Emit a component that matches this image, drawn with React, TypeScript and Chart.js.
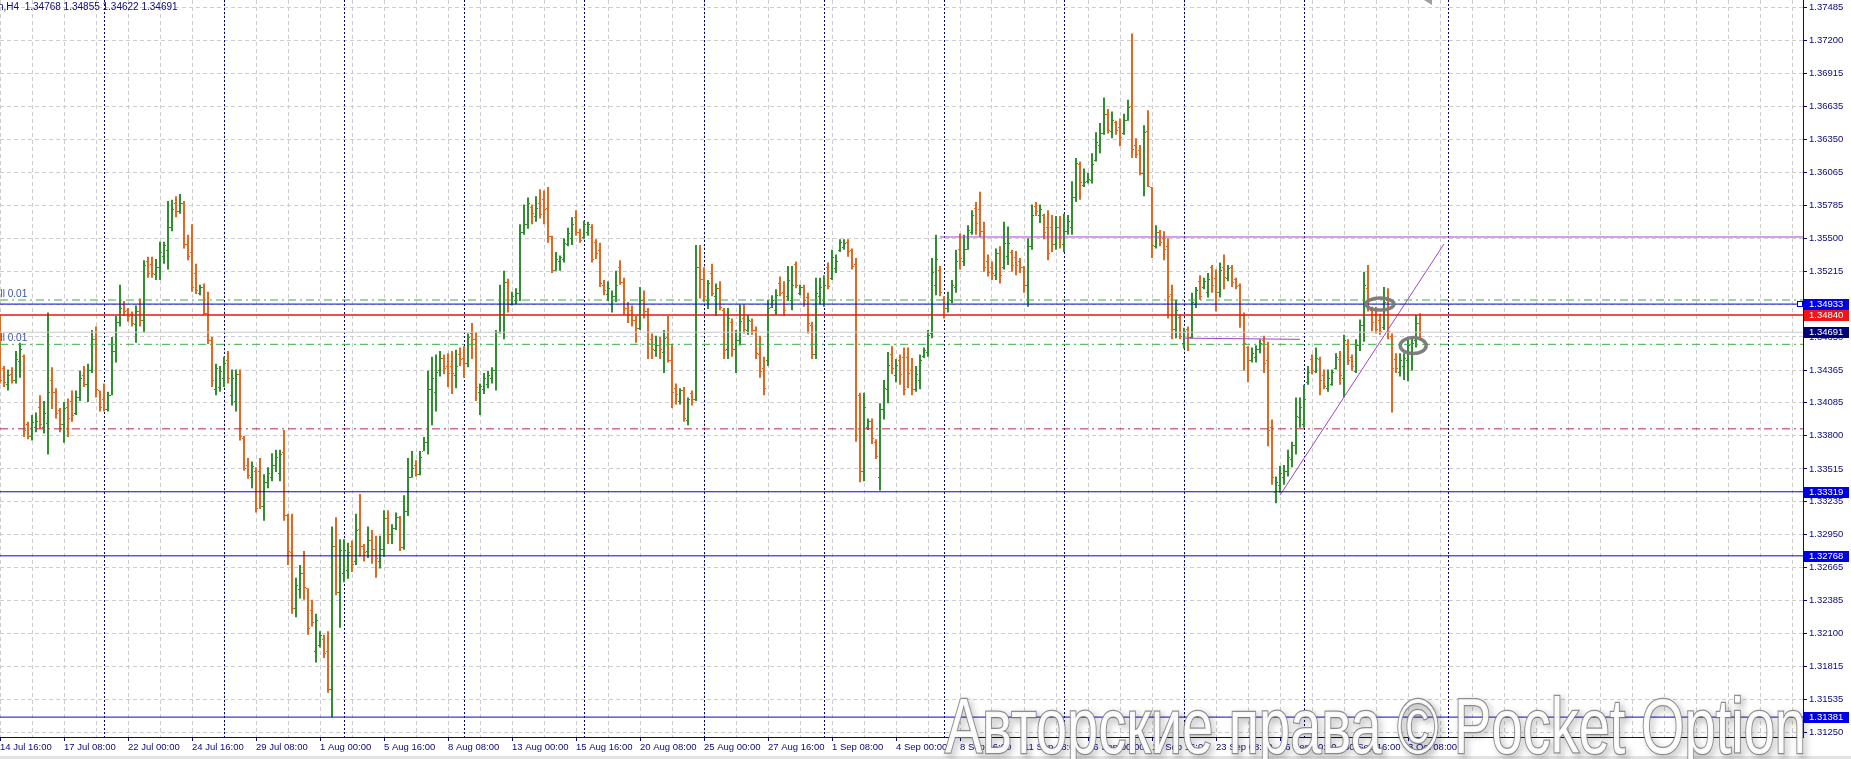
import React, { useEffect, useRef } from 'react';
import { Chart, registerables } from 'chart.js';

Chart.register(...registerables);

// ---------- DATA (H4 bars, 14 Jul 16:00 -> 3 Oct 20:00) ----------
const openPrices = [
  1.3484,1.3438,1.3425,1.3433,1.3428,1.3444,1.3449,1.3390,1.3380,1.3388,
  1.3405,1.3388,1.3391,1.3428,1.3418,1.3402,1.3390,1.3405,1.3410,1.3400,
  1.3413,1.3432,1.3425,1.3437,1.3463,1.3419,1.3412,1.3403,1.3415,1.3453,
  1.3478,1.3493,1.3488,1.3485,1.3476,1.3487,1.3480,1.3530,1.3528,1.3519,
  1.3525,1.3535,1.3540,1.3560,1.3580,1.3573,1.3580,1.3545,1.3538,1.3520,
  1.3503,1.3508,1.3486,1.3462,1.3420,1.3422,1.3430,1.3445,1.3415,1.3410,
  1.3433,1.3378,1.3355,1.3345,1.3350,1.3350,1.3320,1.3340,1.3345,1.3355,
  1.3348,1.3366,1.3312,1.3280,1.3232,1.3248,1.3262,1.3249,1.3230,1.3195,
  1.3200,1.3205,1.3195,1.3162,1.3285,1.3246,1.3262,1.3265,1.3285,1.3272,
  1.3300,1.3285,1.3281,1.3290,1.3283,1.3272,1.3283,1.3309,1.3296,1.3301,
  1.3310,1.3284,1.3315,1.3345,1.3355,1.3347,1.3367,1.3375,1.3420,1.3418,
  1.3437,1.3447,1.3440,1.3440,1.3432,1.3450,1.3447,1.3443,1.3468,1.3463,
  1.3418,1.3420,1.3425,1.3430,1.3437,1.3469,1.3485,1.3512,1.3493,1.3497,
  1.3503,1.3555,1.3562,1.3577,1.3569,1.3580,1.3584,1.3576,1.3552,1.3523,
  1.3530,1.3532,1.3545,1.3550,1.3568,1.3555,1.3551,1.3555,1.3560,1.3547,
  1.3540,1.3510,1.3502,1.3493,1.3500,1.3525,1.3512,1.3490,1.3488,1.3480,
  1.3473,1.3497,1.3487,1.3463,1.3454,1.3458,1.3452,1.3465,1.3445,1.3421,
  1.3410,1.3419,1.3394,1.3417,1.3412,1.3525,1.3515,1.3497,1.3520,1.3500,
  1.3507,1.3488,1.3455,1.3478,1.3455,1.3462,1.3481,1.3471,1.3479,1.3471,
  1.3450,1.3438,1.3445,1.3491,1.3488,1.3511,1.3504,1.3500,1.3497,1.3528,
  1.3503,1.3508,1.3499,1.3475,1.3450,1.3500,1.3497,1.3525,1.3516,1.3524,
  1.3540,1.3542,1.3547,1.3540,1.3528,1.3415,1.3350,1.3388,1.3393,1.3375,
  1.3345,1.3403,1.3420,1.3450,1.3432,1.3445,1.3448,1.3448,1.3437,1.3420,
  1.3428,1.3449,1.3452,1.3468,1.3510,1.3523,1.3498,1.3490,1.3497,1.3508,
  1.3541,1.3530,1.3541,1.3555,1.3576,1.3575,1.3556,1.3530,1.3525,1.3518,
  1.3537,1.3525,1.3535,1.3538,1.3534,1.3530,1.3525,1.3510,1.3543,1.3578,
  1.3570,1.3570,1.3560,1.3560,1.3545,1.3560,1.3545,1.3556,1.3560,1.3585,
  1.3614,1.3596,1.3599,1.3600,1.3617,1.3630,1.3640,1.3657,1.3642,1.3650,
  1.3646,1.3640,1.3652,1.3664,1.3630,1.3626,1.3606,1.3642,1.3594,1.3543,
  1.3555,1.3550,1.3543,1.3502,1.3472,1.3482,1.3460,1.3472,1.3465,1.3493,
  1.3513,1.3508,1.3504,1.3525,1.3516,1.3504,1.3525,1.3516,1.3525,1.3515,
  1.3510,1.3484,1.3456,1.3445,1.3448,1.3455,1.3462,1.3445,1.3388,1.3332,
  1.3338,1.3345,1.3350,1.3360,1.3372,1.3396,1.3390,1.3426,1.3446,1.3436,
  1.3446,1.3432,1.3421,1.3425,1.3438,1.3446,1.3430,1.3459,1.3448,1.3436,
  1.3458,1.3475,1.3507,1.3488,1.3485,1.3480,1.3474,1.3497,1.3466,1.3446,
  1.3435,1.3440,1.3445,1.3452,1.3462,1.34768
];
const highPrices = [
  1.3484,1.3440,1.3437,1.3439,1.3453,1.3460,1.3450,1.3392,1.3398,1.3400,
  1.3415,1.3410,1.3486,1.3439,1.3421,1.3404,1.3409,1.3412,1.3419,1.3419,
  1.3436,1.3440,1.3442,1.3471,1.3474,1.3419,1.3425,1.3418,1.3465,1.3483,
  1.3510,1.3496,1.3490,1.3487,1.3492,1.3498,1.3531,1.3534,1.3534,1.3532,
  1.3547,1.3547,1.3582,1.3583,1.3586,1.3588,1.3582,1.3553,1.3562,1.3528,
  1.3510,1.3511,1.3504,1.3465,1.3442,1.3440,1.3448,1.3453,1.3437,1.3437,
  1.3437,1.3380,1.3361,1.3358,1.3353,1.3361,1.3347,1.3353,1.3365,1.3368,
  1.3368,1.3385,1.3313,1.3313,1.3258,1.3269,1.3281,1.3249,1.3239,1.3227,
  1.3212,1.3209,1.3212,1.3302,1.3310,1.3291,1.3291,1.3288,1.3290,1.3313,
  1.3330,1.3287,1.3302,1.3299,1.3294,1.3294,1.3316,1.3316,1.3304,1.3314,
  1.3311,1.3329,1.3361,1.3367,1.3359,1.3367,1.3379,1.3436,1.3448,1.3450,
  1.3453,1.3450,1.3451,1.3453,1.3454,1.3456,1.3457,1.3468,1.3477,1.3469,
  1.3425,1.3434,1.3436,1.3439,1.3471,1.3510,1.3522,1.3515,1.3504,1.3507,
  1.3562,1.3579,1.3585,1.3579,1.3586,1.3592,1.3591,1.3594,1.3552,1.3538,
  1.3535,1.3550,1.3559,1.3568,1.3574,1.3558,1.3565,1.3564,1.3562,1.3549,
  1.3546,1.3514,1.3513,1.3505,1.3522,1.3531,1.3516,1.3495,1.3492,1.3483,
  1.3508,1.3505,1.3490,1.3468,1.3466,1.3465,1.3471,1.3483,1.3459,1.3425,
  1.3421,1.3422,1.3413,1.3419,1.3544,1.3544,1.3525,1.3514,1.3528,1.3511,
  1.3513,1.3490,1.3490,1.3481,1.3471,1.3493,1.3493,1.3484,1.3481,1.3474,
  1.3466,1.3448,1.3497,1.3501,1.3506,1.3517,1.3513,1.3526,1.3526,1.3530,
  1.3510,1.3510,1.3503,1.3478,1.3516,1.3516,1.3518,1.3529,1.3540,1.3536,
  1.3549,1.3549,1.3549,1.3541,1.3533,1.3417,1.3417,1.3395,1.3395,1.3377,
  1.3408,1.3428,1.3452,1.3457,1.3446,1.3450,1.3456,1.3456,1.3447,1.3440,
  1.3450,1.3456,1.3471,1.3533,1.3553,1.3526,1.3500,1.3504,1.3514,1.3540,
  1.3554,1.3553,1.3561,1.3574,1.3581,1.3590,1.3564,1.3536,1.3530,1.3541,
  1.3543,1.3564,1.3560,1.3540,1.3539,1.3533,1.3526,1.3550,1.3579,1.3581,
  1.3579,1.3571,1.3574,1.3570,1.3569,1.3569,1.3571,1.3570,1.3599,1.3619,
  1.3616,1.3610,1.3606,1.3623,1.3641,1.3649,1.3671,1.3661,1.3659,1.3651,
  1.3653,1.3657,1.3669,1.3726,1.3636,1.3630,1.3647,1.3660,1.3594,1.3561,
  1.3557,1.3556,1.3550,1.3510,1.3497,1.3484,1.3473,1.3474,1.3503,1.3508,
  1.3518,1.3516,1.3520,1.3527,1.3523,1.3529,1.3536,1.3527,1.3527,1.3516,
  1.3511,1.3486,1.3457,1.3456,1.3458,1.3463,1.3466,1.3461,1.3394,1.3345,
  1.3354,1.3355,1.3368,1.3375,1.3413,1.3413,1.3424,1.3440,1.3450,1.3456,
  1.3448,1.3437,1.3437,1.3437,1.3451,1.3453,1.3467,1.3463,1.3450,1.3463,
  1.3480,1.3521,1.3527,1.3491,1.3491,1.3485,1.3508,1.3507,1.3468,1.3451,
  1.3451,1.3451,1.3463,1.3464,1.3484,1.34855
];
const lowPrices = [
  1.3425,1.3422,1.3419,1.3425,1.3425,1.3430,1.3379,1.3377,1.3376,1.3383,
  1.3386,1.3382,1.3364,1.3403,1.3395,1.3383,1.3374,1.3379,1.3392,1.3398,
  1.3410,1.3422,1.3409,1.3434,1.3413,1.3401,1.3401,1.3401,1.3415,1.3443,
  1.3474,1.3483,1.3478,1.3474,1.3460,1.3474,1.3469,1.3516,1.3516,1.3514,
  1.3514,1.3528,1.3523,1.3556,1.3568,1.3571,1.3541,1.3531,1.3504,1.3502,
  1.3501,1.3484,1.3459,1.3422,1.3415,1.3418,1.3422,1.3425,1.3406,1.3401,
  1.3376,1.3350,1.3343,1.3335,1.3314,1.3317,1.3307,1.3335,1.3341,1.3349,
  1.3341,1.3307,1.3269,1.3227,1.3224,1.3240,1.3239,1.3209,1.3216,1.3185,
  1.3198,1.3189,1.3159,1.3138,1.3243,1.3215,1.3254,1.3257,1.3263,1.3269,
  1.3276,1.3272,1.3275,1.3270,1.3258,1.3266,1.3276,1.3287,1.3287,1.3299,
  1.3281,1.3282,1.3311,1.3344,1.3345,1.3346,1.3367,1.3364,1.3389,1.3401,
  1.3431,1.3433,1.3422,1.3416,1.3421,1.3440,1.3430,1.3439,1.3446,1.3410,
  1.3398,1.3416,1.3421,1.3425,1.3419,1.3468,1.3463,1.3486,1.3492,1.3493,
  1.3496,1.3553,1.3558,1.3562,1.3564,1.3567,1.3562,1.3546,1.3520,1.3522,
  1.3522,1.3529,1.3543,1.3544,1.3552,1.3546,1.3549,1.3552,1.3529,1.3532,
  1.3508,1.3501,1.3496,1.3486,1.3495,1.3510,1.3484,1.3477,1.3474,1.3460,
  1.3471,1.3481,1.3446,1.3446,1.3448,1.3446,1.3434,1.3443,1.3404,1.3407,
  1.3407,1.3392,1.3389,1.3406,1.3410,1.3498,1.3495,1.3489,1.3500,1.3483,
  1.3488,1.3446,1.3446,1.3448,1.3434,1.3458,1.3468,1.3467,1.3467,1.3446,
  1.3430,1.3415,1.3440,1.3490,1.3484,1.3500,1.3483,1.3496,1.3488,1.3507,
  1.3501,1.3491,1.3468,1.3446,1.3446,1.3493,1.3491,1.3506,1.3514,1.3520,
  1.3538,1.3540,1.3534,1.3523,1.3375,1.3340,1.3341,1.3385,1.3373,1.3360,
  1.3333,1.3394,1.3408,1.3433,1.3426,1.3424,1.3415,1.3421,1.3415,1.3418,
  1.3420,1.3447,1.3448,1.3464,1.3501,1.3500,1.3481,1.3486,1.3494,1.3503,
  1.3523,1.3526,1.3540,1.3553,1.3553,1.3551,1.3521,1.3517,1.3514,1.3514,
  1.3511,1.3523,1.3527,1.3521,1.3518,1.3520,1.3503,1.3491,1.3540,1.3569,
  1.3563,1.3549,1.3531,1.3538,1.3540,1.3541,1.3538,1.3553,1.3553,1.3581,
  1.3583,1.3594,1.3597,1.3597,1.3616,1.3623,1.3639,1.3640,1.3636,1.3639,
  1.3629,1.3639,1.3651,1.3619,1.3619,1.3604,1.3586,1.3594,1.3533,1.3541,
  1.3543,1.3531,1.3481,1.3463,1.3464,1.3463,1.3455,1.3453,1.3464,1.3490,
  1.3497,1.3506,1.3499,1.3503,1.3487,1.3499,1.3506,1.3513,1.3508,1.3506,
  1.3473,1.3436,1.3426,1.3443,1.3443,1.3451,1.3434,1.3371,1.3338,1.3322,
  1.3331,1.3338,1.3345,1.3353,1.3364,1.3387,1.3387,1.3424,1.3433,1.3434,
  1.3415,1.3420,1.3418,1.3423,1.3437,1.3424,1.3413,1.3441,1.3436,1.3434,
  1.3453,1.3461,1.3487,1.3470,1.3468,1.3467,1.3471,1.3463,1.3400,1.3434,
  1.3431,1.3428,1.3427,1.3436,1.3456,1.34622
];
const closePrices = [
  1.3428,1.3426,1.3432,1.3428,1.3446,1.3455,1.3385,1.3380,1.3392,1.3393,
  1.3390,1.3400,1.3418,1.3418,1.3400,1.3390,1.3404,1.3395,1.3398,1.3413,
  1.3430,1.3425,1.3437,1.3463,1.3420,1.3405,1.3403,1.3415,1.3453,1.3478,
  1.3490,1.3487,1.3483,1.3477,1.3487,1.3480,1.3527,1.3520,1.3520,1.3525,
  1.3538,1.3544,1.3560,1.3575,1.3573,1.3580,1.3545,1.3535,1.3508,1.3505,
  1.3508,1.3486,1.3462,1.3428,1.3438,1.3436,1.3443,1.3430,1.3430,1.3433,
  1.3380,1.3352,1.3346,1.3354,1.3318,1.3320,1.3340,1.3348,1.3355,1.3362,
  1.3364,1.3312,1.3281,1.3232,1.3252,1.3262,1.3250,1.3215,1.3220,1.3222,
  1.3209,1.3193,1.3162,1.3285,1.3246,1.3282,1.3282,1.3280,1.3270,1.3299,
  1.3285,1.3280,1.3290,1.3283,1.3275,1.3283,1.3309,1.3296,1.3301,1.3310,
  1.3284,1.3315,1.3345,1.3352,1.3347,1.3362,1.3375,1.3420,1.3430,1.3435,
  1.3447,1.3438,1.3434,1.3434,1.3440,1.3446,1.3443,1.3465,1.3463,1.3422,
  1.3423,1.3430,1.3432,1.3437,1.3469,1.3485,1.3512,1.3493,1.3500,1.3503,
  1.3555,1.3562,1.3580,1.3572,1.3576,1.3571,1.3575,1.3552,1.3523,1.3532,
  1.3534,1.3546,1.3554,1.3562,1.3555,1.3548,1.3562,1.3562,1.3532,1.3537,
  1.3511,1.3505,1.3507,1.3500,1.3510,1.3512,1.3490,1.3485,1.3480,1.3473,
  1.3497,1.3487,1.3460,1.3455,1.3458,1.3455,1.3464,1.3445,1.3418,1.3416,
  1.3419,1.3395,1.3412,1.3412,1.3525,1.3515,1.3500,1.3511,1.3503,1.3507,
  1.3491,1.3454,1.3481,1.3455,1.3462,1.3479,1.3472,1.3480,1.3471,1.3451,
  1.3436,1.3421,1.3490,1.3497,1.3501,1.3503,1.3488,1.3514,1.3510,1.3510,
  1.3508,1.3497,1.3477,1.3450,1.3503,1.3508,1.3510,1.3509,1.3534,1.3530,
  1.3547,1.3546,1.3539,1.3526,1.3381,1.3350,1.3405,1.3393,1.3378,1.3363,
  1.3403,1.3421,1.3441,1.3438,1.3441,1.3433,1.3420,1.3434,1.3420,1.3433,
  1.3445,1.3454,1.3467,1.3521,1.3532,1.3504,1.3490,1.3498,1.3510,1.3530,
  1.3533,1.3541,1.3557,1.3570,1.3563,1.3556,1.3525,1.3521,1.3520,1.3537,
  1.3518,1.3546,1.3546,1.3527,1.3527,1.3525,1.3510,1.3543,1.3570,1.3573,
  1.3575,1.3555,1.3537,1.3545,1.3560,1.3550,1.3556,1.3565,1.3585,1.3615,
  1.3598,1.3598,1.3601,1.3614,1.3633,1.3640,1.3657,1.3643,1.3652,1.3643,
  1.3637,1.3652,1.3663,1.3627,1.3622,1.3606,1.3641,1.3595,1.3544,1.3555,
  1.3547,1.3541,1.3500,1.3472,1.3488,1.3466,1.3470,1.3465,1.3495,1.3505,
  1.3500,1.3513,1.3515,1.3510,1.3504,1.3523,1.3517,1.3524,1.3512,1.3509,
  1.3484,1.3460,1.3445,1.3451,1.3455,1.3460,1.3443,1.3385,1.3345,1.3340,
  1.3348,1.3350,1.3362,1.3372,1.3397,1.3405,1.3412,1.3435,1.3437,1.3447,
  1.3428,1.3423,1.3430,1.3435,1.3448,1.3432,1.3462,1.3445,1.3440,1.3458,
  1.3475,1.3510,1.3490,1.3478,1.3472,1.3470,1.3495,1.3470,1.3438,1.3438,
  1.3445,1.3447,1.3458,1.3460,1.3477,1.34691
];

const timeLabels = [
  '14 Jul 16:00', '17 Jul 08:00', '22 Jul 00:00', '24 Jul 16:00', '29 Jul 08:00',
  '1 Aug 00:00', '5 Aug 16:00', '8 Aug 08:00', '13 Aug 00:00', '15 Aug 16:00',
  '20 Aug 08:00', '25 Aug 00:00', '27 Aug 16:00', '1 Sep 08:00', '4 Sep 00:00',
  '8 Sep 16:00', '11 Sep 08:00', '16 Sep 00:00', '18 Sep 16:00', '23 Sep 08:00',
  '26 Sep 00:00', '30 Sep 16:00', '3 Oct 08:00'
];
const barsPerTimeLabel = 16;
const barsPerGridLine = 8;
const visibleBarSlots = 450.75;

const priceTicks = [
  1.37485, 1.37200, 1.36915, 1.36635, 1.36350, 1.36065, 1.35785, 1.35500,
  1.35215, 1.34930, 1.34650, 1.34365, 1.34085, 1.33800, 1.33515, 1.33235,
  1.32950, 1.32665, 1.32385, 1.32100, 1.31815, 1.31535, 1.31250
];
const priceMin = 1.31210;
const priceMax = 1.37548;

const weekStartBars = [26, 56, 86, 116, 146, 176, 206, 236, 266, 296, 326];
const verticalLineBars = [362];
const chartShiftBar = [357];

const blueLevels = [1.34933, 1.33319, 1.32768, 1.31381];
const redLevels = [1.34840];
const bidLevels = [1.34691];
const orderLevels = [1.34968, 1.34587];
const maroonLevels = [1.33860];

const resistanceBars = [235, 450.75];
const resistancePrices = [1.3551, 1.3551];
const shortLineBars = [296, 325];
const shortLinePrices = [1.3464, 1.3463];
const trendBars = [320, 361];
const trendPrices = [1.3329, 1.3545];

const ellipseBars = [345, 353.3];
const ellipsePrices = [1.34933, 1.34576];

// ---------- STYLE ----------
const UP = '#2f8f2f';
const DOWN = '#e8651e';
const NAVY = '#0a0a78';
const GRID = '#cdcdcd';
const FONT = '"Liberation Sans", Arial, sans-serif';
const PURPLE = '#a044c8';

const barColors = closePrices.map((c, i) => (c >= openPrices[i] ? UP : DOWN));

function levelDataset(v: number, color: string, width: number, dash: number[]) {
  return {
    type: 'line',
    data: [{ x: 0, y: v }, { x: visibleBarSlots, y: v }],
    borderColor: color,
    borderWidth: width,
    borderDash: dash,
    pointRadius: 0,
    fill: false,
  };
}
function segmentDataset(xs: number[], ys: number[], color: string) {
  return {
    type: 'line',
    data: xs.map((x, i) => ({ x, y: ys[i] })),
    borderColor: color,
    borderWidth: 1,
    pointRadius: 0,
    fill: false,
  };
}

const mtPlugin: any = {
  id: 'mtPlugin',
  beforeDraw(chart: any) {
    const { ctx, width, height } = chart;
    ctx.save();
    ctx.fillStyle = '#ffffff';
    ctx.fillRect(0, 0, width, height);
    ctx.fillStyle = '#e2e2e2';
    ctx.fillRect(0, height - 3, width, 3);
    ctx.restore();
  },
  beforeDatasetsDraw(chart: any) {
    const { ctx, chartArea: a, scales } = chart;
    const x = scales.x;
    ctx.save();
    ctx.strokeStyle = '#00006e';
    ctx.lineWidth = 1;
    ctx.setLineDash([2, 2]);
    [...weekStartBars, ...verticalLineBars].forEach((b) => {
      const px = Math.round(x.getPixelForValue(b)) + 0.5;
      ctx.beginPath();
      ctx.moveTo(px, a.top);
      ctx.lineTo(px, a.bottom);
      ctx.stroke();
    });
    ctx.restore();
  },
  afterDatasetDraw(chart: any, args: any) {
    if (args.meta.type !== 'bar') return;
    const { ctx, chartArea: a, scales } = chart;
    const x = scales.x, y = scales.y;
    ctx.save();
    ctx.beginPath();
    ctx.rect(a.left, a.top, a.right - a.left, a.bottom - a.top);
    ctx.clip();
    for (let i = 0; i < openPrices.length; i++) {
      const px = Math.round(x.getPixelForValue(i));
      ctx.fillStyle = barColors[i];
      ctx.fillRect(px - 2, Math.round(y.getPixelForValue(openPrices[i])), 1, 1);
      ctx.fillRect(px + 1, Math.round(y.getPixelForValue(closePrices[i])), 1, 1);
    }
    ctx.restore();
  },
  afterDraw(chart: any) {
    const { ctx, chartArea: a, scales, width } = chart;
    const x = scales.x, y = scales.y;

    // ellipses
    ctx.save();
    ctx.strokeStyle = 'rgba(120,120,120,0.95)';
    ctx.lineWidth = 3.5;
    const radii = [[14, 6], [13, 8]];
    ellipseBars.forEach((b, i) => {
      ctx.beginPath();
      ctx.ellipse(x.getPixelForValue(b), y.getPixelForValue(ellipsePrices[i]), radii[i][0], radii[i][1], 0, 0, Math.PI * 2);
      ctx.stroke();
    });
    ctx.restore();

    // order labels
    ctx.save();
    ctx.font = `10px ${FONT}`;
    ctx.fillStyle = '#3a52a8';
    ctx.textBaseline = 'bottom';
    orderLevels.forEach((v) => {
      ctx.fillText('sell 0.01', -10, Math.round(y.getPixelForValue(v)) - 1);
    });
    ctx.restore();

    // header
    const last = openPrices.length - 1;
    ctx.save();
    ctx.font = `10px ${FONT}`;
    ctx.fillStyle = NAVY;
    ctx.textBaseline = 'middle';
    ctx.fillText(
      `n,H4  ${openPrices[last].toFixed(5)} ${highPrices[last].toFixed(5)} ${lowPrices[last].toFixed(5)} ${closePrices[last].toFixed(5)}`,
      -2, 7
    );
    ctx.restore();

    // right price boxes
    const boxes: [number, string][] = [
      ...blueLevels.map((v) => [v, '#0000e6'] as [number, string]),
      ...redLevels.map((v) => [v, '#f01414'] as [number, string]),
      ...bidLevels.map((v) => [v, '#000078'] as [number, string]),
    ];
    ctx.save();
    ctx.font = `9.5px ${FONT}`;
    ctx.textBaseline = 'middle';
    boxes.forEach(([v, bg]) => {
      const py = Math.round(y.getPixelForValue(v));
      ctx.fillStyle = bg;
      ctx.fillRect(a.right + 1, py - 5, width - a.right - 3, 11);
      ctx.fillStyle = '#ffffff';
      ctx.fillText(v.toFixed(5), a.right + 6, py + 0.5);
    });
    const sq = Math.round(y.getPixelForValue(blueLevels[0]));
    ctx.fillStyle = '#ffffff';
    ctx.fillRect(a.right - 5, sq - 2, 5, 5);
    ctx.strokeStyle = '#0000c8';
    ctx.lineWidth = 1;
    ctx.strokeRect(a.right - 5.5, sq - 2.5, 5, 5);
    ctx.restore();

    // chart shift marker
    ctx.save();
    const sx = Math.round(x.getPixelForValue(chartShiftBar[0]));
    ctx.fillStyle = '#a0a0a0';
    ctx.beginPath();
    ctx.moveTo(sx - 4, 0);
    ctx.lineTo(sx + 4, 0);
    ctx.lineTo(sx + 4, 5);
    ctx.closePath();
    ctx.fill();
    ctx.restore();

    // watermark
    ctx.save();
    const txt = 'Авторские права © Pocket Option';
    ctx.font = `78px ${FONT}`;
    const tw = ctx.measureText(txt).width;
    ctx.translate(945, 753);
    ctx.scale(861 / tw, 1);
    ctx.textBaseline = 'alphabetic';
    ctx.shadowColor = 'rgba(0,0,0,0.45)';
    ctx.shadowBlur = 6;
    ctx.shadowOffsetX = 3;
    ctx.shadowOffsetY = 3;
    ctx.lineWidth = 2.5;
    ctx.strokeStyle = 'rgba(125,125,125,0.85)';
    ctx.strokeText(txt, 0, 0);
    ctx.shadowColor = 'rgba(0,0,0,0)';
    ctx.fillStyle = 'rgba(255,255,255,0.93)';
    ctx.fillText(txt, 0, 0);
    ctx.restore();
  },
};

export default function App() {
  const ref = useRef<HTMLCanvasElement>(null);
  useEffect(() => {
    const canvas = ref.current as HTMLCanvasElement;
    const bars = highPrices.map((h, i) => ({ x: i, y: [lowPrices[i], h] }));
    const gridValues: number[] = [];
    for (let v = 0; v <= visibleBarSlots; v += barsPerGridLine) gridValues.push(v);

    const datasets: any[] = [
      ...orderLevels.map((v) => levelDataset(v, '#3cb043', 1, [8, 4, 2, 4])),
      ...blueLevels.map((v) => levelDataset(v, '#0a0ac8', 1, [])),
      ...redLevels.map((v) => levelDataset(v, '#e01818', 1.5, [])),
      ...bidLevels.map((v) => levelDataset(v, '#c8c8c8', 1, [])),
      ...maroonLevels.map((v) => levelDataset(v, '#b4284c', 1, [8, 4, 2, 4])),
      segmentDataset(resistanceBars, resistancePrices, PURPLE),
      segmentDataset(shortLineBars, shortLinePrices, PURPLE),
      segmentDataset(trendBars, trendPrices, PURPLE),
      {
        type: 'bar',
        data: bars,
        backgroundColor: barColors,
        borderWidth: 0,
        barThickness: 2,
        inflateAmount: 0,
        grouped: false,
      },
    ];

    const chart = new Chart(canvas, {
      type: 'bar',
      data: { datasets },
      options: {
        responsive: false,
        maintainAspectRatio: false,
        animation: false,
        devicePixelRatio: 1,
        layout: { padding: 0 },
        plugins: { legend: { display: false }, tooltip: { enabled: false } },
        scales: {
          x: {
            type: 'linear',
            offset: false,
            min: 0,
            max: visibleBarSlots,
            afterBuildTicks: (s: any) => {
              s.ticks = gridValues.map((v) => ({ value: v }));
            },
            afterFit: (s: any) => {
              s.height = 22;
              s.paddingLeft = 0;
              s.paddingRight = 0;
            },
            ticks: {
              autoSkip: false,
              maxRotation: 0,
              minRotation: 0,
              align: 'start',
              padding: 1,
              color: NAVY,
              font: { family: FONT, size: 9.5 },
              callback: (value: any) => {
                const v = Number(value);
                if (v % barsPerTimeLabel !== 0) return '';
                return timeLabels[v / barsPerTimeLabel] ?? '';
              },
            },
            grid: {
              offset: false,
              color: GRID,
              lineWidth: 1,
              tickLength: 4,
              tickBorderDash: [],
              tickColor: (c: any) => {
                const v = c.tick ? c.tick.value : -1;
                return v % barsPerTimeLabel === 0 && v / barsPerTimeLabel < timeLabels.length ? NAVY : 'rgba(0,0,0,0)';
              },
            },
            border: { color: NAVY, width: 1, dash: [4, 3] },
          },
          y: {
            type: 'linear',
            position: 'right',
            min: priceMin,
            max: priceMax,
            afterBuildTicks: (s: any) => {
              s.ticks = priceTicks.map((v) => ({ value: v }));
            },
            afterFit: (s: any) => {
              s.width = 48;
              s.paddingTop = 0;
              s.paddingBottom = 0;
            },
            ticks: {
              autoSkip: false,
              padding: 2,
              color: NAVY,
              font: { family: FONT, size: 9.5 },
              callback: (value: any) => Number(value).toFixed(5),
            },
            grid: {
              color: GRID,
              lineWidth: 1,
              tickLength: 4,
              tickBorderDash: [],
              tickColor: NAVY,
            },
            border: { color: NAVY, width: 1, dash: [4, 3] },
          },
        },
      } as any,
      plugins: [mtPlugin],
    } as any);
    return () => chart.destroy();
  }, []);

  return (
    <div style={{ position: 'fixed', left: 0, top: 0, width: 1851, height: 759, background: '#fff' }}>
      <canvas ref={ref} width={1851} height={759} style={{ display: 'block', width: 1851, height: 759 }} />
    </div>
  );
}
